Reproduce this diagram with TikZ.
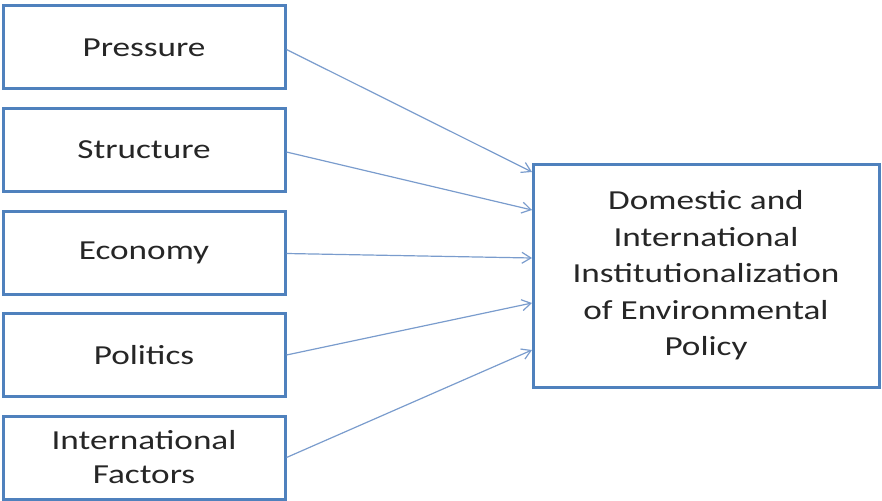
\documentclass[tikz,border=0pt]{standalone}
\usepackage{fontspec}
\setmainfont{Carlito}[FakeStretch=1.28]
\usetikzlibrary{arrows.meta}
\definecolor{boxblue}{HTML}{4F81BD}
\definecolor{linkblue}{HTML}{7A9CCD}
\begin{document}
\begin{tikzpicture}[
  x=1pt, y=-1pt,
  factor/.style={draw=boxblue, line width=3pt, minimum width=282pt, minimum height=83pt,
    inner sep=2pt, align=center, text=black!85, font=\fontsize{27.5}{34}\selectfont},
  target/.style={factor, minimum width=346pt, minimum height=223pt,
    font=\fontsize{27.5}{36.5}\selectfont},
  link/.style={draw=linkblue, line width=1.2pt, -{Straight Barb[length=9pt,width=11pt]}}
]
\useasboundingbox (0,0) rectangle (882,500);

\node[factor] (pressure) at (144,47.5) {Pressure};
\node[factor] (structure) at (144,150) {Structure};
\node[factor] (economy) at (144,252.5) {Economy};
\node[factor] (politics) at (144,355) {Politics};
\node[factor] (intl) at (144,457.5) {International\\Factors};

\node[target] (policy) at (706,275.5) {Domestic and\\International\\Institutionalization\\of Environmental\\Policy};

% arrow ends on the left side of the policy box
\coordinate (t1) at (532,172);
\coordinate (t2) at (532,210);
\coordinate (t3) at (532,258);
\coordinate (t4) at (532,303);
\coordinate (t5) at (532,350);

\draw[link] (pressure.east) ++(0,2) -- (t1);
\draw[link] (structure.east) ++(0,2) -- (t2);
\draw[link] (economy.east) ++(0,1) -- (t3);
\draw[link] (politics.east) -- (t4);
\draw[link] (intl.east) -- (t5);
\end{tikzpicture}
\end{document}
